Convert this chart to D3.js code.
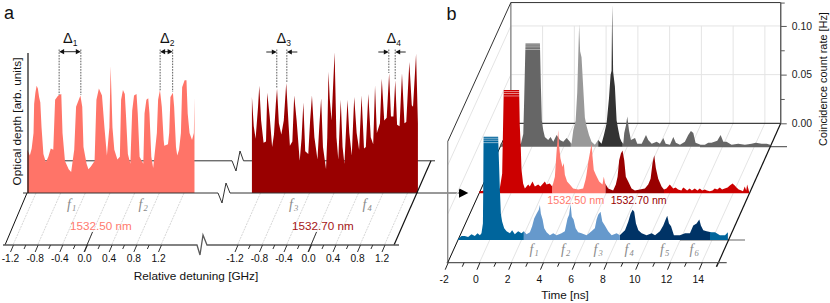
<!DOCTYPE html>
<html>
<head>
<meta charset="utf-8">
<script src="https://cdn.jsdelivr.net/npm/d3@7"></script>
<style>
html, body { margin: 0; padding: 0; background: #fff; }
svg { display: block; }
text { font-family: "Liberation Sans", Arial, sans-serif; }
</style>
</head>
<body>
<svg id="chart" width="830" height="303"></svg>
<script>
// panel a, spectra: detuning in GHz, optical depth in percent of the axis
var detA = [-1.34,-1.30,-1.27,-1.24,-1.23,-1.21,-1.19,-1.17,-1.15,-1.13,
    -1.11,-1.08,-1.04,-1.00,-0.96,-0.92,-0.89,-0.84,-0.79,-0.77,
    -0.73,-0.67,-0.63,-0.58,-0.55,-0.48,-0.45,-0.43,-0.38,-0.35,
    -0.31,-0.25,-0.22,-0.18,-0.13,-0.09,-0.05,-0.01,0.01,0.04,
    0.07,0.12,0.16,0.18,0.21,0.24,0.26,0.29,0.33,0.36,
    0.39,0.43,0.45,0.48,0.54,0.56,0.59,0.62,0.64,0.67,
    0.70,0.76,0.78,0.81,0.84,0.87,0.88,0.94,0.96,0.98,
    1.02,1.04,1.07,1.09,1.12,1.15,1.17,1.21,1.24,1.26,
    1.29,1.33,1.36,1.37];
var odA = [31,27,32,43,64,72,77,75,69,65,
    47,28,22,26,32,31,67,70,71,43,
    23,17,15,31,62,70,62,33,21,17,
    19,23,67,75,70,47,27,47,91,47,
    31,24,26,67,74,71,55,28,21,59,
    70,71,57,26,21,57,67,68,57,26,
    18,43,67,74,62,38,34,35,43,69,
    72,62,33,27,31,43,76,81,81,57,
    43,38,43,69];
var detB = [-1.34,-1.31,-1.28,-1.24,-1.22,-1.19,-1.15,-1.11,-1.09,-1.05,-1.01,-0.98,-0.95,-0.93,-0.90,-0.86,-0.82,-0.78,-0.74,-0.72,-0.68,-0.65,-0.61,-0.56,-0.53,-0.50,-0.47,-0.42,-0.39,-0.36,-0.32,-0.27,-0.24,-0.21,-0.18,-0.13,-0.11,-0.09,-0.07,-0.04,0.01,0.04,0.07,0.11,0.14,0.17,0.22,0.25,0.29,0.33,0.37,0.41,0.45,0.49,0.52,0.56,0.60,0.64,0.67,0.70,0.75,0.78,0.82,0.86,0.90,0.93,0.97,1.00,1.03,1.07,1.11,1.15,1.18,1.23,1.27,1.29,1.34,1.37];
var odB = [69,48,39,62,77,52,36,37,72,55,33,42,64,75,50,42,52,79,48,34,37,70,52,23,39,65,30,28,52,70,40,24,48,68,33,17,40,87,68,52,101,40,24,67,33,21,67,43,27,69,43,31,70,32,33,71,40,35,77,43,50,82,52,54,86,55,55,81,49,48,86,50,51,94,63,62,100,50];
var detTicks = [-1.2,-0.8,-0.4,0,0.4,0.8,1.2];
var detMinor = [-1.0,-0.6,-0.2,0.2,0.6,1.0];
var deltaA = [[-0.825,-0.473],[0.813,1.016]];
var deltaB = [[-0.934,-0.77],[0.895,0.999]];
var deltaTops = [[95,95],[91,92],[88,83],[73,80]];

// panel b, coincidence traces: time in ns, rate in mHz
var grayTime = [-2,-1.5,-1,-0.7,-0.55,-0.49,-0.41,0.50,0.56,0.62,
    0.71,0.81,1.02,1.17,1.34,1.55,1.76,1.97,2.18,2.39,
    2.49,2.60,2.75,2.85,2.93,2.97,3.03,3.12,3.27,3.33,
    3.44,3.59,3.75,3.96,4.17,4.38,4.53,4.70,4.85,4.95,
    5.01,5.05,5.11,5.22,5.33,5.44,5.54,5.64,5.75,5.81,
    5.92,6.0,6.11,6.23,6.49,6.63,6.91,7.18,7.32,7.54,
    7.85,8.06,8.27,8.42,8.69,8.90,9.06,9.32,9.63,9.84,
    10.01,10.16,10.30,10.62,10.89,11.1,11.31,11.67,11.88,12.05,
    12.25,12.57,12.99,13.41,13.83,14.10,14.46,14.78,15];
var grayRate = [3,4,3,3,13,50,106,106,62,27,
    17,10,7,10,5,12,7,5,9,5,
    3,17,27,56,103,126,98,92,48,30,
    21,12,5,2,7,3,12,24,50,74,
    78,146,77,62,27,17,9,5,3,14,
    22,31,17,7,9,3,3,12,7,3,
    5,3,9,3,2,10,4,2,5,12,
    16,14,4,2,2,4,4,6,12,5,
    5,2,3,2,3,4,3,3,2];
var redTime = [-2,-1.6,-1.2,-0.7,-0.55,-0.45,0.52,0.56,0.62,0.67,
    0.77,0.88,1.09,1.19,1.36,1.51,1.72,1.86,2.14,2.24,
    2.45,2.60,2.66,2.77,2.87,2.98,3.04,3.12,3.25,3.33,
    3.40,3.54,3.71,3.92,4.24,4.55,4.70,4.76,4.87,4.97,
    5.08,5.14,5.22,5.35,5.56,5.77,5.85,5.94,6.13,6.44,
    6.61,6.72,6.82,6.93,7.03,7.14,7.24,7.39,7.60,7.81,
    8.12,8.44,8.65,8.80,8.92,9.03,9.13,9.28,9.49,9.64,
    9.80,10.01,10.22,10.38,10.53,10.74,10.85,10.95,11.1,11.26,
    11.4,11.58,11.75,11.90,12.05,12.21,12.35,12.53,12.7,12.84,
    13.0,13.16,13.3,13.47,13.65,13.79,13.96,14.1,14.21,14.35,
    14.52,14.62,14.73,14.82,14.88,15];
var redRate = [2,3,4,5,20,106,106,70,48,24,
    10,5,9,7,12,7,9,7,12,9,
    10,7,10,17,41,65,48,36,27,31,
    19,12,9,5,4,5,14,19,32,41,
    51,38,24,19,12,9,17,10,5,3,
    9,17,34,41,44,34,17,12,5,3,
    4,5,9,15,31,39,26,15,7,4,
    5,9,5,6,4,3,6,5,3,5,
    3,5,3,5,3,4,3,2,3,5,
    4,6,4,5,6,8,10,8,6,4,
    3,2,7,3,9,2];
var blueTime = [-2,-1.78,-1.57,-1.36,-1.15,-0.94,-0.77,-0.62,-0.52,-0.43,
    -0.41,-0.39,0.53,0.64,0.70,0.78,0.91,1.06,1.27,1.41,
    1.58,1.79,2.0,2.15,2.32,2.53,2.67,2.80,2.95,3.09,
    3.16,3.22,3.33,3.43,3.58,3.79,4.0,4.21,4.52,4.73,
    4.90,5.0,5.09,5.17,5.28,5.41,5.57,5.78,6.1,6.41,
    6.62,6.73,6.83,6.98,7.09,7.25,7.46,7.68,7.99,8.2,
    8.52,8.73,8.87,9.0,9.1,9.21,9.36,9.57,9.88,10.2,
    10.41,10.72,10.93,11.08,11.18,11.29,11.42,11.6,11.98,12.3,
    12.61,12.82,13.03,13.2,13.3,13.45,13.66,13.98,14.19,14.5,
    14.82,15];
var blueRate = [1,4,4,3,6,4,7,5,7,17,
    51,106,106,51,27,19,12,9,7,10,
    6,9,7,9,6,8,14,22,27,31,
    36,27,21,12,8,5,7,5,7,9,
    22,26,37,24,21,12,8,7,5,9,
    12,21,26,29,19,15,9,5,7,5,
    10,19,27,31,29,17,10,7,5,7,
    5,9,15,21,25,17,14,5,5,7,
    7,15,17,21,15,10,9,8,8,5,
    5,8];
var grayBreaks = [-2,2.45,4.17,5.72,15];
var grayColors = ["#666666","#999999","#333333","#666666"];
var redBreaks = [-2,2.62,5.96,9.65,15];
var redColors = ["#cc0000","#ff7a70","#990000","#cc0000"];
var blueBreaks = [-2,2.15,8.2,13.88,15];
var blueColors = ["#00659c","#6699cc","#003366","#00659c"];
var clipLevels = [104.5,102.5,100];
var timeTicks = [-2,0,2,4,6,8,10,12,14];
var timeMinor = [-1,1,3,5,7,9,11,13,15];
var rateTicks = [0,0.05,0.10];
var rateMinor = [0.025,0.075,0.124];

var svg = d3.select("#chart");
var AXIS_GRAY = "#5a5a5a";
var GRID = "#e4e4e4";
var SALMON = "#ff7a6e";
var DARK_RED = "#990000";

// top plane x positions of both spectra, the floor is sheared from them
var xA = d3.scaleLinear().domain([-1.2,1.2]).range([36,184]);
var xB = d3.scaleLinear().domain([-1.2,1.2]).range([260.5,407.5]);
var yOD = d3.scaleLinear().domain([0,100]).range([193,53.7]);
var xT = d3.scaleLinear().domain([-2,15]).range([447.7,717.6]);
var yRate = d3.scaleLinear().domain([0,0.125]).range([123.3,1.6]);
var SHEAR_A = 23;
var SHEAR_B = 0.453;

function line(x1,y1,x2,y2,color,w,dash){
    return svg.append("line")
	.attr("x1",x1).attr("y1",y1).attr("x2",x2).attr("y2",y2)
	.attr("stroke",color).attr("stroke-width",w)
	.attr("stroke-dasharray",dash || null);
}

function poly(pts,color,w){
    return svg.append("path")
	.attr("d",d3.line()(pts))
	.attr("fill","none")
	.attr("stroke",color).attr("stroke-width",w);
}

function label(x,y,str,size,color,anchor){
    return svg.append("text")
	.attr("x",x).attr("y",y)
	.attr("font-size",size)
	.attr("fill",color || "#111")
	.attr("text-anchor",anchor || "start")
	.text(str);
}

function fLabel(x,y,sub){
    var t = svg.append("text")
	.attr("x",x).attr("y",y)
	.attr("fill","#8a8a8a")
	.attr("font-size",14)
	.style("font-family","'Liberation Serif', serif")
	.style("font-style","italic")
	.text("f");
    t.append("tspan").attr("font-size",8.5).attr("dx",1).attr("dy",2.5).text(sub);
}

function deltaLabel(x,y,sub){
    var t = svg.append("text")
	.attr("x",x).attr("y",y)
	.attr("fill","#111")
	.attr("font-size",14.5)
	.text("\u0394");
    t.append("tspan").attr("font-size",8.5).attr("dy",3).text(sub);
}

function arrowHead(x,y,dir){
    svg.append("path")
	.attr("d",d3.line()([[x,y],[x+dir*5,y-2.6],[x+dir*5,y+2.6]]) + "Z")
	.attr("fill","#111");
}

/* ---------- panel a ---------- */

label(4,19,"a",18);

// slanted guide lines under the spectra
[xA,xB].forEach(function(x){
    detTicks.forEach(function(d){
	line(x(d),193,x(d)-SHEAR_A,245,"#c4c4c4",0.7,"2 1");
    });
});

// far baseline, with its break
poly([[28,160.8],[232,160.8],[236,171],[240,151],[243.5,160.8],[435,160.8]],"#333",1);

function spectrum(x,dets,ods,color){
    var area = d3.area()
	.x(function(d,i){ return x(dets[i]); })
	.y0(yOD(0))
	.y1(function(d){ return yOD(d); });
    svg.append("path").attr("d",area(ods)).attr("fill",color);
}
spectrum(xA,detA,odA,"#ff7468");
spectrum(xB,detB,odB,DARK_RED);

// near baseline and the arrow into panel b
poly([[23,193],[218,193],[222,203],[226,183],[230,193],[459,193]],"#333",1);
svg.append("path")
    .attr("d",d3.line()([[459,188.3],[468.3,193],[459,197.7]]) + "Z")
    .attr("fill","#000");

line(28,53,28,193,"#111",1.2);
line(27,193,5,245,"#111",1);
line(431,160.8,394,245,"#111",1.2);

// front axis
poly([[3,245],[197,245],[200,255],[203,235],[207,245],[399,245]],AXIS_GRAY,1.3);

function detAxis(x){
    var front = x.copy().range(x.range().map(function(v){ return v - SHEAR_A; }));
    var major = d3.axisBottom(front).tickValues(detTicks).tickSize(7).tickSizeOuter(0)
	.tickFormat(function(d){ return d.toFixed(1); });
    var g = svg.append("g").attr("transform","translate(0,245)").call(major);
    g.select(".domain").remove();
    g.selectAll("line").attr("x2",-3).attr("stroke","#333");
    g.selectAll("text")
	.attr("x",-3).attr("y",10).attr("dy","0.71em")
	.attr("font-size",10.2).attr("fill","#111")
	.style("font-family","'Liberation Sans', Arial, sans-serif");
    var minor = d3.axisBottom(front).tickValues(detMinor).tickSize(4).tickSizeOuter(0).tickFormat("");
    var m = svg.append("g").attr("transform","translate(0,245)").call(minor);
    m.select(".domain").remove();
    m.selectAll("line").attr("x2",-1.8).attr("stroke","#333");
    line(front(0),245,front(0)+5.5,232,"#222",0.9);
    line(front(0),245,front(0)-3,252,"#222",0.9);
}
detAxis(xA);
detAxis(xB);

label(196,280,"Relative detuning [GHz]",11.8,"#111","middle");
svg.append("text")
    .attr("transform","translate(21,121.5) rotate(-90)")
    .attr("text-anchor","middle")
    .attr("font-size",11.8)
    .attr("fill","#111")
    .text("Optical depth [arb. units]");

label(70,230,"1532.50 nm",11.7,SALMON);
label(292,230,"1532.70 nm",11.7,"#a51616");

fLabel(67,208.5,"1");
fLabel(138.5,208.5,"2");
fLabel(289,208.5,"3");
fLabel(362.5,208.5,"4");

// spacing marks
var deltaPairs = [
    {x:xA,d:deltaA[0],top:deltaTops[0],y:51.7,out:false,lx:63,sub:"1"},
    {x:xA,d:deltaA[1],top:deltaTops[1],y:51.7,out:false,lx:160,sub:"2"},
    {x:xB,d:deltaB[0],top:deltaTops[2],y:52,out:true,lx:276.5,sub:"3"},
    {x:xB,d:deltaB[1],top:deltaTops[3],y:52,out:true,lx:386.5,sub:"4"}
];
deltaPairs.forEach(function(p){
    var a = p.x(p.d[0]), b = p.x(p.d[1]);
    line(a,49.5,a,p.top[0],"#333",0.8,"1.6 1.2");
    line(b,49.5,b,p.top[1],"#333",0.8,"1.6 1.2");
    if (p.out){
	line(a-10.5,p.y,a-3,p.y,"#111",0.9);
	line(b+10.5,p.y,b+3,p.y,"#111",0.9);
	arrowHead(a,p.y,-1);
	arrowHead(b,p.y,1);
    } else {
	line(a+3,p.y,b-3,p.y,"#111",0.9);
	arrowHead(a,p.y,1);
	arrowHead(b,p.y,-1);
    }
    deltaLabel(p.lx,43.3,p.sub);
});

/* ---------- panel b ---------- */

label(446.5,20,"b",18);

var FRONT_Y = 262.7, BACK_Y = yRate(0);
var DEPTH_DX = (FRONT_Y - BACK_Y) * SHEAR_B;

// walls and floor grid
rateTicks.slice(1).forEach(function(r){
    var y = yRate(r);
    line(xT(-2)+DEPTH_DX,y,xT(15)+DEPTH_DX,y,GRID,1);
    line(xT(-2),y+FRONT_Y-BACK_Y,xT(-2)+DEPTH_DX,y,GRID,1);
});
timeTicks.forEach(function(t){
    line(xT(t)+DEPTH_DX,yRate(0.10),xT(t)+DEPTH_DX,BACK_Y,GRID,1);
    line(xT(t),FRONT_Y,xT(t)+DEPTH_DX,BACK_Y,"#dddddd",0.8);
});

line(xT(-2),FRONT_Y-121,xT(-2),FRONT_Y,"#8c8c8c",1.4);
line(xT(-2)+DEPTH_DX,yRate(0.124),xT(-2)+DEPTH_DX,BACK_Y,"#8c8c8c",1.4);
line(xT(-2),FRONT_Y-121,xT(-2)+DEPTH_DX,yRate(0.124),"#333",1);
line(xT(-2)+DEPTH_DX,yRate(0.124),xT(15)+DEPTH_DX,yRate(0.124),"#333",1);
line(xT(-2),FRONT_Y,xT(-2)+DEPTH_DX,BACK_Y,"#111",1);
line(xT(-2)+DEPTH_DX,BACK_Y,xT(15)+DEPTH_DX,BACK_Y,"#111",1);

// grey stubs past the floor edge
line(700,146.7,787,146.7,"#666",1.2);
line(680,240,745,240,"#666",1.2);

var trace_id = 0;
function trace(times,rates,breaks,colors,baseY){
    var dx = (FRONT_Y - baseY) * SHEAR_B;
    var dy = baseY - BACK_Y;
    var area = d3.area()
	.x(function(d,i){ return xT(times[i]) + dx; })
	.y0(yRate(0) + dy)
	.y1(function(d){ return yRate(d/1000) + dy; });
    colors.forEach(function(c,i){
	var id = "seg" + (trace_id++);
	svg.append("clipPath").attr("id",id).append("rect")
	    .attr("x",xT(breaks[i]) + dx)
	    .attr("width",xT(breaks[i+1]) - xT(breaks[i]))
	    .attr("y",0).attr("height",303);
	svg.append("path")
	    .attr("d",area(rates))
	    .attr("fill",c)
	    .attr("clip-path","url(#" + id + ")");
    });
    // saturated top of the pump pulse
    clipLevels.forEach(function(l){
	var y = yRate(l/1000) + dy;
	line(xT(-0.46)+dx,y,xT(0.56)+dx,y,"#fff",0.7).attr("stroke-opacity",0.75);
    });
}
trace(grayTime,grayRate,grayBreaks,grayColors,146.7);
trace(redTime,redRate,redBreaks,redColors,193.3);
trace(blueTime,blueRate,blueBreaks,blueColors,240);

// right floor edge
line(xT(15)+DEPTH_DX,BACK_Y,xT(15)-1,FRONT_Y+4,"#111",1.2);

// rate axis on the back wall
var rateX = xT(15) + DEPTH_DX;
var rateAxis = d3.axisRight(yRate).tickValues(rateTicks).tickSize(6).tickSizeOuter(0).tickFormat(d3.format(".2f"));
var ra = svg.append("g").attr("transform","translate(" + rateX + ",0)").call(rateAxis);
ra.select(".domain").remove();
ra.selectAll("line").attr("stroke",AXIS_GRAY).attr("stroke-width",1);
ra.selectAll("text")
    .attr("x",11).attr("font-size",10.4).attr("fill","#222")
    .style("font-family","'Liberation Sans', Arial, sans-serif");
var rm = svg.append("g").attr("transform","translate(" + rateX + ",0)")
    .call(d3.axisRight(yRate).tickValues(rateMinor).tickSize(4).tickSizeOuter(0).tickFormat(""));
rm.select(".domain").remove();
rm.selectAll("line").attr("stroke",AXIS_GRAY);
line(rateX,yRate(0.124),rateX,BACK_Y,AXIS_GRAY,1.4);

svg.append("text")
    .attr("transform","translate(827,79) rotate(-90)")
    .attr("text-anchor","middle")
    .attr("font-size",10.9)
    .attr("fill","#111")
    .text("Coincidence count rate [Hz]");

// time axis
line(xT(-2)-1,FRONT_Y,726.7,FRONT_Y,AXIS_GRAY,1.3);
var timeAxis = d3.axisBottom(xT).tickValues(timeTicks).tickSize(7).tickSizeOuter(0)
    .tickFormat(function(d){ return String(d); });
var tg = svg.append("g").attr("transform","translate(0," + FRONT_Y + ")").call(timeAxis);
tg.select(".domain").remove();
tg.selectAll("line").attr("x2",-3).attr("stroke","#222");
tg.selectAll("text")
    .attr("x",-4).attr("y",13).attr("dy","0.71em")
    .attr("font-size",10.4).attr("fill","#111")
    .style("font-family","'Liberation Sans', Arial, sans-serif");
var tm = svg.append("g").attr("transform","translate(0," + FRONT_Y + ")")
    .call(d3.axisBottom(xT).tickValues(timeMinor).tickSize(4).tickSizeOuter(0).tickFormat(""));
tm.select(".domain").remove();
tm.selectAll("line").attr("x2",-1.8).attr("stroke","#222");

label(565,299,"Time [ns]",11.7,"#111","middle");
label(547.3,204,"1532.50 nm",10.8,SALMON);
label(610.7,204,"1532.70 nm",10.6,DARK_RED);

fLabel(529.5,253.5,"1");
fLabel(561,253.5,"2");
fLabel(593.5,253.5,"3");
fLabel(624.5,253.5,"4");
fLabel(660,253.5,"5");
fLabel(689.5,253.5,"6");
</script>
</body>
</html>
